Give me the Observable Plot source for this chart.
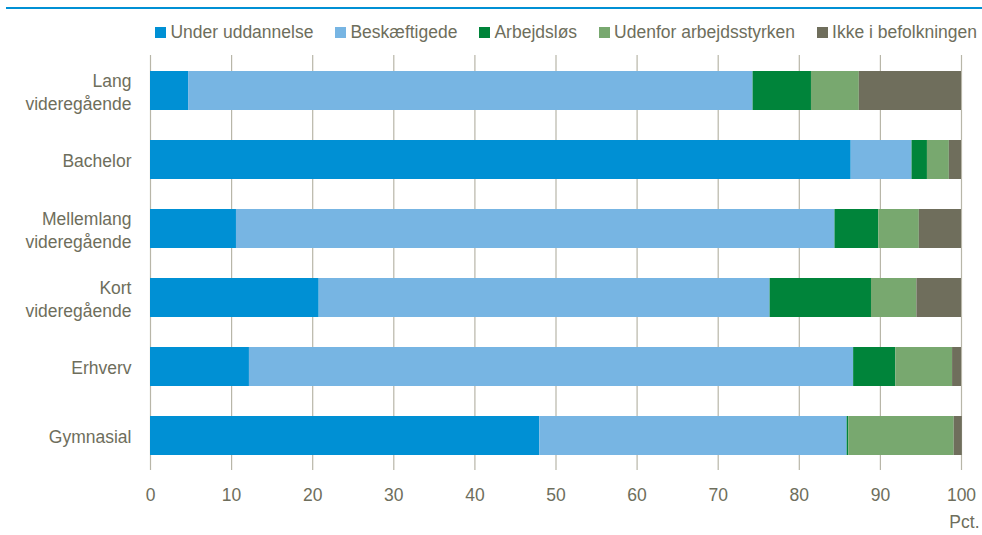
<!DOCTYPE html>
<html><head><meta charset="utf-8">
<script src="https://cdn.jsdelivr.net/npm/d3@7"></script>
<script src="https://cdn.jsdelivr.net/npm/@observablehq/plot@0.6"></script>
<style>
body{margin:0;background:#fff;font-family:"Liberation Sans",Arial,sans-serif;color:#6e6e5c;width:982px;height:535px;overflow:hidden;position:relative}
#topline{position:absolute;left:6px;right:0;top:7px;height:2px;background:#0090d4}
#legend{position:absolute;top:22px;right:5px;display:flex;gap:22px;font-size:17.5px;line-height:20px;white-space:nowrap}
.item{display:flex;align-items:center}
.sw{width:11px;height:11px;margin-right:4px;display:inline-block}
#chart{position:absolute;left:0;top:45px}
</style>
</head><body>
<div id="topline"></div>
<div id="legend"></div>
<div id="chart"></div>
<script>
const groups = ["Lang\nvideregående", "Bachelor", "Mellemlang\nvideregående", "Kort\nvideregående", "Erhverv", "Gymnasial"];
const categories = ["Under uddannelse", "Beskæftigede", "Arbejdsløs", "Udenfor arbejdsstyrken", "Ikke i befolkningen"];
const colors = ["#0090d4", "#77b5e3", "#00843a", "#78a86f", "#6f6e5c"];
const underUddannelse = [4.7, 86.4, 10.6, 20.8, 12.2, 48.0];
const beskaeftigede   = [69.6, 7.5, 73.8, 55.6, 74.5, 37.9];
const arbejdsloes     = [7.2, 1.9, 5.4, 12.5, 5.2, 0.2];
const udenfor         = [5.9, 2.7, 5.0, 5.6, 7.0, 13.0];
const ikkeBefolkning  = [12.6, 1.5, 5.2, 5.5, 1.1, 1.0];
const xTicks = [0, 10, 20, 30, 40, 50, 60, 70, 80, 90, 100];

const series = [underUddannelse, beskaeftigede, arbejdsloes, udenfor, ikkeBefolkning];
const rows = [];
groups.forEach((g, i) => categories.forEach((c, j) => rows.push({group: g, category: c, value: series[j][i]})));

const textColor = "#6e6e5c";

const legend = document.getElementById("legend");
categories.forEach((c, j) => {
  const it = document.createElement("div");
  it.className = "item";
  it.innerHTML = `<span class="sw" style="background:${colors[j]}"></span><span>${c}</span>`;
  legend.appendChild(it);
});

const chart = Plot.plot({
  width: 982,
  height: 490,
  marginTop: 10,
  marginBottom: 65,
  marginLeft: 150,
  marginRight: 21,
  style: {fontFamily: "'Liberation Sans', Arial, sans-serif", fontSize: "17.5px", color: textColor, background: "#fff"},
  x: {domain: [0, 100], ticks: xTicks},
  y: {domain: groups, paddingInner: 0.436, paddingOuter: 0.217},
  color: {domain: categories, range: colors},
  marks: [
    Plot.gridX(xTicks, {stroke: "#b8b6a8", strokeOpacity: 1, strokeWidth: 1.2}),
    Plot.barX(rows, {x: "value", y: "group", fill: "category", order: categories}),
    Plot.axisX(xTicks, {tickSize: 0, tickPadding: 18, fontSize: 17.5, fill: textColor, label: null}),
    Plot.axisY({tickSize: 0, tickPadding: 19, fontSize: 17.5, fill: textColor, label: null, lineHeight: 1.3}),
    Plot.text(["Pct."], {frameAnchor: "bottom-right", dx: 18, dy: 57, fontSize: 17.5, fill: textColor, textAnchor: "end"})
  ]
});
document.getElementById("chart").appendChild(chart);
</script>
</body></html>
